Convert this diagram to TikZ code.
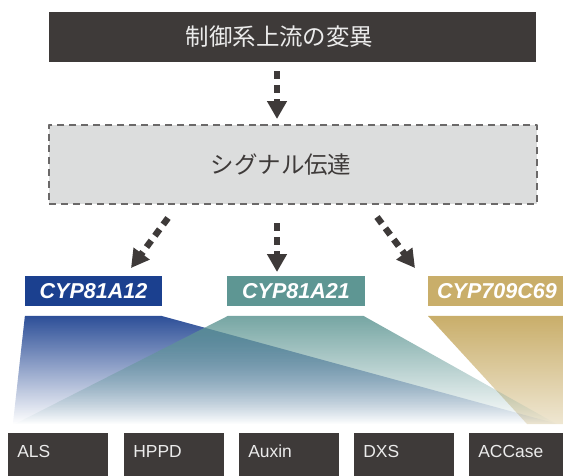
\documentclass[tikz,border=0pt]{standalone}
\usepackage{fontspec}
\setmainfont{Liberation Sans}
\newfontfamily\jpfont{Noto Sans CJK JP}
\usetikzlibrary{arrows.meta,fadings}

\definecolor{darkbox}{RGB}{62,58,57}
\definecolor{signalfill}{RGB}{220,221,221}
\definecolor{signaledge}{RGB}{107,105,105}
\definecolor{cypblue}{RGB}{27,64,143}
\definecolor{cypteal}{RGB}{94,150,147}
\definecolor{cypgold}{RGB}{201,174,106}

\tikzfading[name=fadedown,top color=transparent!0,bottom color=transparent!100]
\tikzfading[name=fadesoft,top color=transparent!0,bottom color=transparent!70]

\tikzset{
  upbox/.style={fill=darkbox,text=white!92!black,inner sep=0pt,
    minimum width=12.175cm,minimum height=1.25cm,
    font=\jpfont\fontsize{16.7pt}{20pt}\selectfont},
  signalbox/.style={fill=signalfill,draw=signaledge,line width=1pt,
    dash pattern=on 5pt off 3.5pt,inner sep=0pt,text=darkbox,
    minimum width=12.2cm,minimum height=1.975cm,
    font=\jpfont\fontsize{16.7pt}{20pt}\selectfont},
  genebox/.style={text=white,inner sep=0pt,
    minimum width=3.425cm,minimum height=.75cm,
    font=\bfseries\itshape\fontsize{15.3pt}{18pt}\selectfont},
  herbbox/.style={fill=darkbox,text=white!92!black,anchor=north west,
    inner xsep=.225cm,inner ysep=0pt,text width=2.05cm,align=left,
    text height=.6cm,text depth=.5cm,
    font=\fontsize{12.4pt}{15pt}\selectfont},
  flowarrow/.style={->,draw=darkbox,line width=4.6pt,
    dash pattern=on 5.7pt off 4.3pt}
}

\begin{document}
\begin{tikzpicture}[x=.025cm,y=-.025cm,line join=round,
  >={Triangle[width=13.5pt,length=12.8pt]}]
\useasboundingbox (0,0) rectangle (563,475);
\clip (0,0) rectangle (563,475);

\node[upbox] (upstream) at (292.5,37) {制御系上流の変異\kern.65cm};
\node[signalbox] (signal) at (293,164.5) {シグナル伝達\kern.6cm};

% fans to the herbicide classes
\fill[cypgold,path fading=fadesoft](428,316)--(566,316)--(566,424)--(527,424)--cycle;
\fill[cypblue!92!white,path fading=fadedown](25,316)--(162,316)--(558,424)--(13,424)--cycle;
\fill[cypteal,fill opacity=.85,path fading=fadedown](228,316)--(364,316)--(557,424)--(15,424)--cycle;

\node[genebox,fill=cypblue] (cyp81a12) at (93.5,291) {CYP81A12};
\node[genebox,fill=cypteal] (cyp81a21) at (296,291) {CYP81A21};
\node[genebox,fill=cypgold,minimum width=3.45cm] (cyp709c69) at (497,291) {CYP709C69};

\foreach \name/\x/\txt in {als/8/ALS,hppd/124/HPPD,auxin/239/Auxin,dxs/354/DXS,accase/469/ACCase}
  \node[herbbox] (\name) at (\x,433) {\txt};

    \coordinate (up0) at (277,71);
    \coordinate (up1) at (277,119);
    \coordinate (sgL) at (168,218);
    \coordinate (sgM) at (277,223);
    \coordinate (sgR) at (377,217);
    \coordinate (cyL) at (131,268);
    \coordinate (cyM) at (277,272);
    \coordinate (cyR) at (415,268);

\draw[flowarrow](up0)--(up1);
\draw[flowarrow](sgL)--(cyL);
\draw[flowarrow](sgM)--(cyM);
\draw[flowarrow](sgR)--(cyR);
\end{tikzpicture}
\end{document}
